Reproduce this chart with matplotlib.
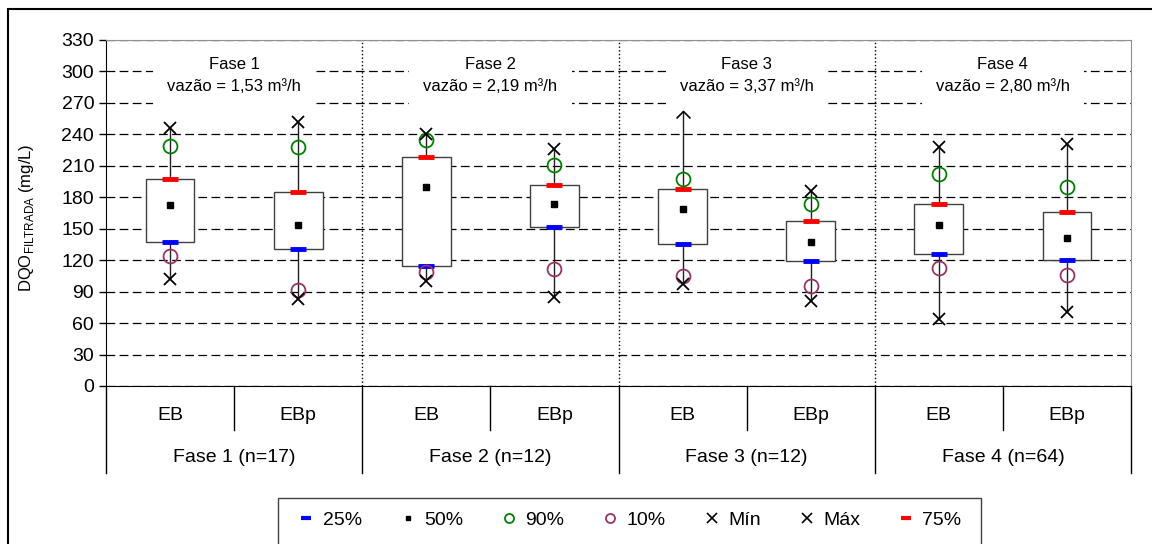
import numpy as np
import matplotlib
matplotlib.use("Agg")
import matplotlib.pyplot as plt
from matplotlib.lines import Line2D
from matplotlib.patches import Rectangle
from matplotlib.path import Path

plt.rcParams['font.family'] = ['Liberation Sans', 'DejaVu Sans']

# Data (mg/L)
groups = ['EB', 'EBp', 'EB', 'EBp', 'EB', 'EBp', 'EB', 'EBp']
phase_labels = ['Fase 1 (n=17)', 'Fase 2 (n=12)', 'Fase 3 (n=12)', 'Fase 4 (n=64)']
phase_names = ['Fase 1', 'Fase 2', 'Fase 3', 'Fase 4']
flows = ['1,53', '2,19', '3,37', '2,80']

p_min = [102, 83, 100, 85, 97, 81, 64, 71]
p10 = [124, 92, 109, 112, 105, 95, 113, 106]
p25 = [137, 131, 114, 152, 135, 119, 126, 120]
p50 = [173, 154, 190, 174, 169, 137, 154, 141]
p75 = [197, 185, 218, 192, 188, 157, 174, 166]
p90 = [229, 228, 235, 211, 197, 174, 202, 190]
p_max = [246, 252, 240, 226, 262, 186, 228, 231]

yticks = list(range(0, 331, 30))

x = np.arange(len(groups))
p25a, p75a = np.array(p25), np.array(p75)

fig = plt.figure(figsize=(11.52, 5.44), dpi=100)
ax = fig.add_axes([106 / 1152, 1 - 386 / 544, (1131 - 106) / 1152, (386 - 40) / 544])

ax.set_xlim(-0.5, 7.5)
ax.set_ylim(0, 330)
ax.set_yticks(yticks)
ax.tick_params(axis='y', labelsize=14, direction='out', length=5, width=1)
ax.set_xticks([])
ax.set_axisbelow(True)
ax.grid(axis='y', color='black', lw=0.9, linestyle=(0, (7, 3.5)))
for s in ['top', 'right']:
    ax.spines[s].set_color('#909090')
ax.spines['left'].set_color('black')
ax.spines['bottom'].set_color('black')

# phase separators in the plot area
for b in [1.5, 3.5, 5.5]:
    ax.axvline(b, color='black', lw=1, linestyle=':', zorder=1)

# whiskers, boxes, markers
ax.vlines(x, p_min, p_max, color='#202020', lw=1, zorder=2)
ax.bar(x, p75a - p25a, bottom=p25a, width=0.38, color='white',
       edgecolor='#404040', lw=1, zorder=3)
ax.plot(x, p25, ls='none', marker='_', color='blue', ms=12, mew=3.5, zorder=4)
ax.plot(x, p75, ls='none', marker='_', color='red', ms=12, mew=3.5, zorder=4)
ax.plot(x, p50, ls='none', marker='s', color='black', ms=4.5, zorder=4)
ax.plot(x, p90, ls='none', marker='o', mfc='none', mec='#008000', ms=10, mew=1.3, zorder=4)
ax.plot(x, p10, ls='none', marker='o', mfc='none', mec='#993366', ms=10, mew=1.3, zorder=4)
ax.plot(x, p_min, ls='none', marker='x', color='black', ms=8.5, mew=1.3, zorder=5)

caret_idx = 4  # max of Fase 3 EB is drawn as an open caret in the original
caret = Path([(-1, -1), (0, 0), (1, -1)], [Path.MOVETO, Path.LINETO, Path.LINETO])
mx = [i for i in x if i != caret_idx]
ax.plot(mx, [p_max[i] for i in mx], ls='none', marker='x', color='black',
        ms=8.5, mew=1.3, zorder=5)
ax.plot([caret_idx], [p_max[caret_idx]], ls='none', marker=caret, mfc='none',
        color='black', ms=10, mew=1.2, zorder=5)

# phase annotations inside the plot
for k, (name, q) in enumerate(zip(phase_names, flows)):
    ax.text(2 * k + 0.5, 296, f'{name}\nvazão = {q} m³/h', ha='center', va='center',
            fontsize=12, linespacing=1.55, zorder=6,
            bbox=dict(boxstyle='square,pad=0.85', fc='white', ec='none'))

# two-level category axis
trans = ax.get_xaxis_transform()
y_mid = -(430 - 386) / 346
y_bot = -(473 - 386) / 346
for b in [-0.5, 1.5, 3.5, 5.5, 7.5]:
    ax.plot([b, b], [0, y_bot], transform=trans, clip_on=False, color='black', lw=1)
for b in [0.5, 2.5, 4.5, 6.5]:
    ax.plot([b, b], [0, y_mid], transform=trans, clip_on=False, color='black', lw=1)
for i, g in enumerate(groups):
    ax.text(i, -(415 - 386) / 346, g, transform=trans, ha='center', va='center', fontsize=14)
for k, lab in enumerate(phase_labels):
    ax.text(2 * k + 0.5, -(458 - 386) / 346, lab, transform=trans, ha='center',
            va='center', fontsize=14)

fig.text(27 / 1152, 1 - 218 / 544, r'DQO$_{\mathregular{FILTRADA}}$ (mg/L)',
         rotation=90, ha='center', va='center', fontsize=12)

# outer chart frame and legend frame
fig.add_artist(Rectangle((8 / 1152, -0.1), 2, 1.1 - 9 / 544, transform=fig.transFigure,
                         fill=False, ec='black', lw=1.5))
fig.add_artist(Rectangle((278 / 1152, -0.1), (981 - 278) / 1152, 0.1 + 1 - 498 / 544,
                         transform=fig.transFigure, fill=False, ec='#404040', lw=1))

handles = [
    Line2D([], [], ls='none', marker='_', color='blue', ms=7, mew=3),
    Line2D([], [], ls='none', marker='s', color='black', ms=3.5),
    Line2D([], [], ls='none', marker='o', mfc='none', mec='#008000', ms=6.5, mew=1.3),
    Line2D([], [], ls='none', marker='o', mfc='none', mec='#993366', ms=6.5, mew=1.3),
    Line2D([], [], ls='none', marker='x', color='black', ms=7, mew=1.2),
    Line2D([], [], ls='none', marker='x', color='black', ms=7, mew=1.2),
    Line2D([], [], ls='none', marker='_', color='red', ms=7, mew=3),
]
labels = ['25%', '50%', '90%', '10%', 'Mín', 'Máx', '75%']
fig.legend(handles, labels, loc='center', bbox_to_anchor=(630 / 1152, 1 - 520 / 544),
           ncol=7, frameon=False, fontsize=14, handlelength=0.8, handletextpad=0.45,
           columnspacing=1.95)

plt.savefig('out.png', dpi=100)
